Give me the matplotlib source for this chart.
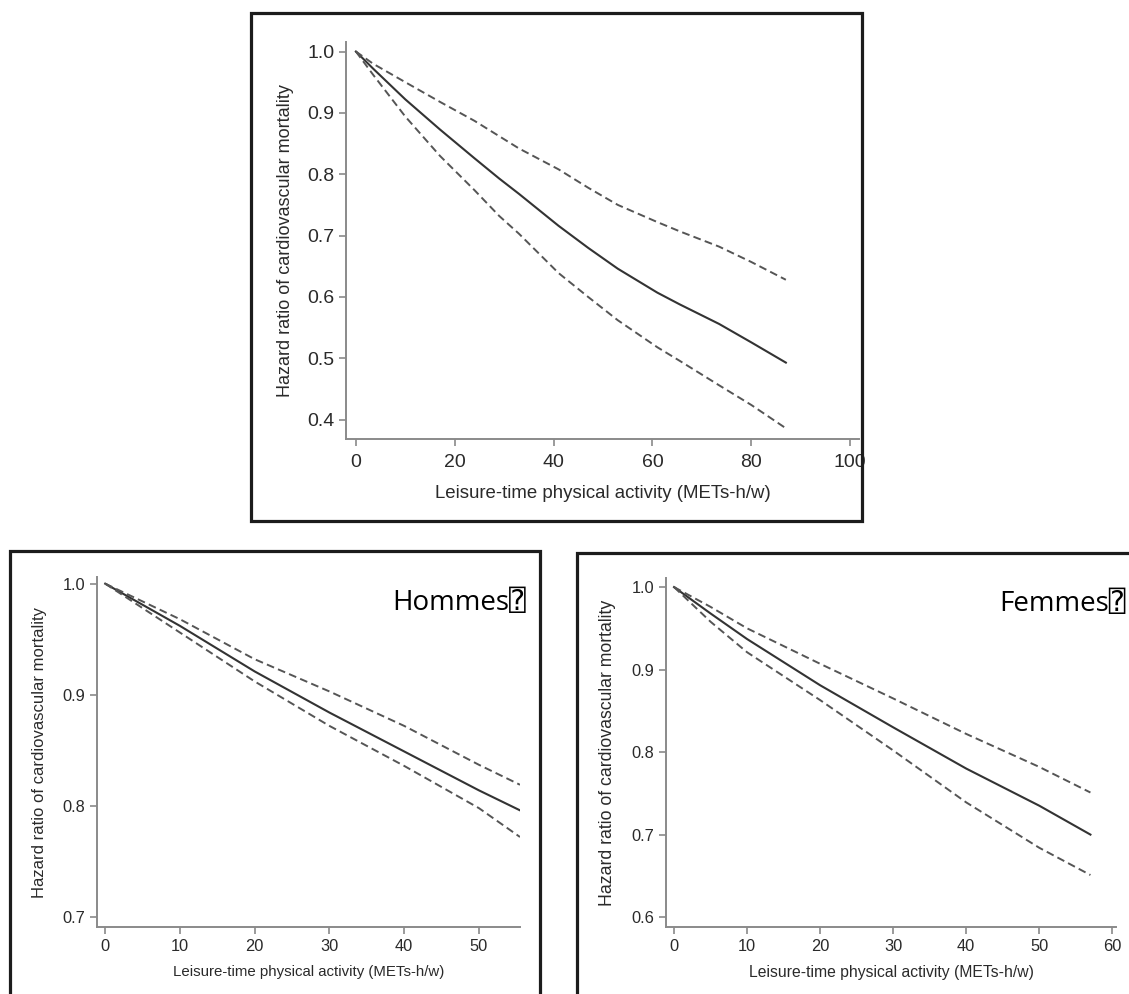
import numpy as np
import matplotlib; matplotlib.use('Agg')
import matplotlib.pyplot as plt
from matplotlib.patches import Rectangle

# all participants
x_all = [0, 3.5, 10, 17, 24, 29, 33, 41, 47, 53, 61, 65.5, 73.5, 80, 87]
hr_all = [1.0, 0.972, 0.922, 0.873, 0.826, 0.793, 0.768, 0.716, 0.680, 0.646, 0.607, 0.588, 0.556, 0.526, 0.493]
hi_all = [1.0, 0.980, 0.950, 0.918, 0.887, 0.862, 0.842, 0.808, 0.778, 0.750, 0.722, 0.707, 0.682, 0.657, 0.628]
lo_all = [1.0, 0.962, 0.894, 0.830, 0.774, 0.732, 0.703, 0.639, 0.600, 0.562, 0.518, 0.496, 0.456, 0.424, 0.386]

# men
x_m = [0, 5, 10, 20, 30, 40, 50, 55.5]
hr_m = [1.0, 0.981, 0.962, 0.921, 0.884, 0.849, 0.814, 0.796]
hi_m = [1.0, 0.984, 0.968, 0.932, 0.903, 0.872, 0.837, 0.819]
lo_m = [1.0, 0.978, 0.956, 0.912, 0.872, 0.836, 0.798, 0.772]

# women
x_f = [0, 5, 10, 20, 30, 40, 50, 57]
hr_f = [1.0, 0.968, 0.937, 0.881, 0.830, 0.780, 0.735, 0.700]
hi_f = [1.0, 0.976, 0.950, 0.907, 0.865, 0.822, 0.782, 0.751]
lo_f = [1.0, 0.958, 0.921, 0.863, 0.802, 0.739, 0.684, 0.651]

W, H = 1129, 994
plt.rcParams['font.family'] = ['Liberation Sans', 'DejaVu Sans']
fig = plt.figure(figsize=(W/100, H/100), dpi=100)

def px_axes(l, t, r, b):
    return fig.add_axes([l/W, 1-b/H, (r-l)/W, (b-t)/H])

def frame(l, t, r, b):
    fig.add_artist(Rectangle((l/W, 1-b/H), (r-l)/W, (b-t)/H, transform=fig.transFigure,
                             fill=False, ec='#1c1c1c', lw=2.3))

txt = '#2a2a2a'
def panel(ax, x, hr, lo, hi, xlim, ylim, xt, yt, fs, xlfs, ylfs, xpad, xlpad, ylpad):
    ax.plot(x, hr, '-', color='#333333', lw=1.5)
    ax.plot(x, hi, color='#555555', lw=1.4, ls=(0, (4, 2.2)))
    ax.plot(x, lo, color='#555555', lw=1.4, ls=(0, (4, 2.2)))
    ax.set_xlim(*xlim); ax.set_ylim(*ylim)
    ax.set_xticks(xt); ax.set_yticks(yt)
    ax.set_yticklabels(['%.1f' % v for v in yt])
    for s in ['top', 'right']:
        ax.spines[s].set_visible(False)
    for s in ['left', 'bottom']:
        ax.spines[s].set_color('#8a8a8a'); ax.spines[s].set_linewidth(1.4)
    ax.tick_params(colors='#8a8a8a', labelcolor=txt, labelsize=fs, length=5, width=1.2)
    ax.tick_params(axis='x', pad=xpad)
    ax.set_xlabel('Leisure-time physical activity (METs-h/w)', fontsize=xlfs, color=txt, labelpad=xlpad)
    ax.set_ylabel('Hazard ratio of cardiovascular mortality', fontsize=ylfs, color=txt, labelpad=ylpad)

ax1 = px_axes(346, 42, 859, 439)
panel(ax1, x_all, hr_all, lo_all, hi_all, (-2.0, 101.8), (0.3685, 1.0155),
      range(0, 101, 20), [0.4, 0.5, 0.6, 0.7, 0.8, 0.9, 1.0], 14, 13.4, 13, 6, 10, 9)
frame(251, 13, 862, 521)

ax2 = px_axes(97, 577, 520, 927)
panel(ax2, x_m, hr_m, lo_m, hi_m, (-1.1, 55.5), (0.691, 1.006),
      range(0, 51, 10), [0.7, 0.8, 0.9, 1.0], 11.8, 10.8, 12, 3.5, 8, 11)
frame(10, 551, 540, 1005)
ax2.text(1.015, 0.925, 'Hommes\u2370', transform=ax2.transAxes, ha='right', va='center',
         fontsize=20, color='black', family=['Open Sans', 'DejaVu Sans', 'DejaVu Sans Mono'])

ax3 = px_axes(666, 578, 1116, 927)
panel(ax3, x_f, hr_f, lo_f, hi_f, (-1.1, 60.5), (0.588, 1.011),
      range(0, 61, 10), [0.6, 0.7, 0.8, 0.9, 1.0], 11.8, 11.3, 12.7, 3.5, 8, 11)
frame(577, 553, 1140, 1005)
ax3.text(1.022, 0.925, 'Femmes\u2370', transform=ax3.transAxes, ha='right', va='center',
         fontsize=20, color='black', family=['Open Sans', 'DejaVu Sans', 'DejaVu Sans Mono'])

fig.savefig('out.png', dpi=100)
